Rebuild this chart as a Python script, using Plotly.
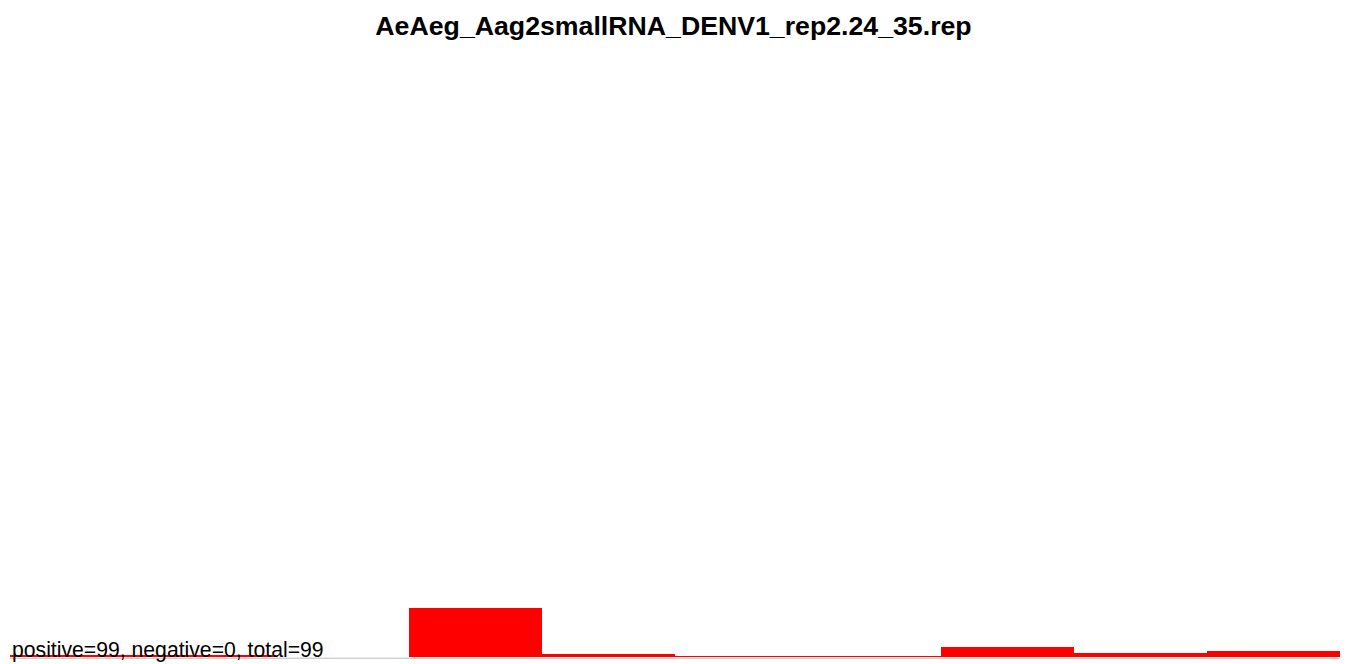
import plotly.graph_objects as go

# Read coverage per bin along the reference (10 equal bins)
bins = list(range(1, 11))
positive = [3, 3, 0, 62, 4, 1, 1, 12, 5, 8]
negative = [0] * 10
title_text = "AeAeg_Aag2smallRNA_DENV1_rep2.24_35.rep"
summary = "positive=%d, negative=%d, total=%d" % (sum(positive), sum(negative), sum(positive) + sum(negative))

fig = go.Figure()
fig.add_trace(go.Bar(
    x=[b - 0.5 for b in bins],
    y=positive,
    width=1,
    marker=dict(color="#ff0000", line=dict(width=0)),
    showlegend=False,
    hoverinfo="x+y",
))

# zero line for the negative strand, shown where no positive coverage exists
fig.add_shape(type="line", xref="x", yref="y", x0=0, x1=10, y0=0, y1=0,
              line=dict(color="#0000ff", width=1), layer="below")

fig.add_annotation(text=summary, xref="paper", yref="paper", x=0, y=0,
                   xanchor="left", yanchor="bottom", yshift=-7, xshift=0,
                   showarrow=False, font=dict(family="Liberation Sans, Arial", size=21.2, color="#000000"))

fig.update_layout(
    width=1347, height=664,
    margin=dict(l=10, r=7, t=60, b=7),
    paper_bgcolor="white", plot_bgcolor="white",
    title=dict(text="<b>%s</b>" % title_text, x=0.5, xanchor="center", y=0.962, yanchor="middle",
               font=dict(family="Liberation Sans, Arial", size=26.7, color="#000000")),
    xaxis=dict(range=[0, 10], visible=False, showgrid=False, zeroline=False),
    yaxis=dict(range=[0, 752], visible=False, showgrid=False, zeroline=False),
    bargap=0,
    shapes=[dict(type="line", xref="paper", yref="paper", x0=0, x1=1, y0=-0.002, y1=-0.002,
                 line=dict(color="#bbbbbb", width=1), layer="below")] ,
)

fig.write_html("out.html")
